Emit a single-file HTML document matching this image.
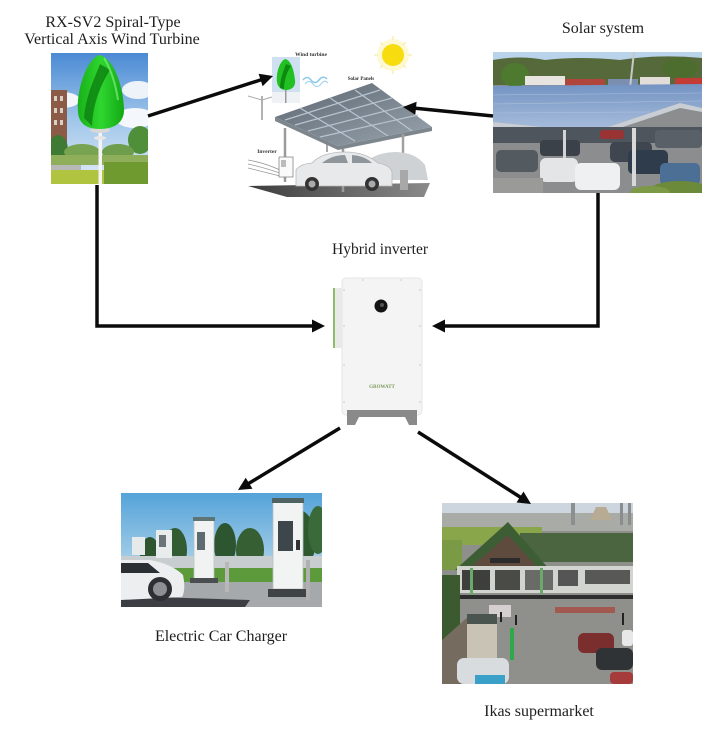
<!DOCTYPE html>
<html><head><meta charset="utf-8"><style>
html,body{margin:0;padding:0;background:#fff;}
svg{display:block;}
text{font-family:"Liberation Serif",serif;}
</style></head><body>
<svg width="716" height="730" viewBox="0 0 716 730" xmlns="http://www.w3.org/2000/svg">
<defs>
<linearGradient id="wsky" x1="0" y1="0" x2="0" y2="1"><stop offset="0" stop-color="#4b8ad4"/><stop offset="0.5" stop-color="#9ec5ea"/><stop offset="1" stop-color="#e2ecf6"/></linearGradient>
<linearGradient id="green" x1="0" y1="0" x2="1" y2="0"><stop offset="0" stop-color="#18b01a"/><stop offset="0.5" stop-color="#2fd62f"/><stop offset="1" stop-color="#12a814"/></linearGradient>
<linearGradient id="panel" x1="0" y1="0" x2="0" y2="1"><stop offset="0" stop-color="#7393c2"/><stop offset="1" stop-color="#aabfdd"/></linearGradient>
<linearGradient id="csky" x1="0" y1="0" x2="0" y2="1"><stop offset="0" stop-color="#54a3d9"/><stop offset="1" stop-color="#dbeaf2"/></linearGradient>
<linearGradient id="plat" x1="0" y1="0" x2="1" y2="0"><stop offset="0" stop-color="#3d3d3d"/><stop offset="1" stop-color="#8a8a8a"/></linearGradient>
<linearGradient id="roof" x1="0" y1="0" x2="1" y2="1"><stop offset="0" stop-color="#5c6670"/><stop offset="1" stop-color="#9aa4ae"/></linearGradient>
<clipPath id="cw"><rect x="51" y="53" width="97" height="131"/></clipPath>
<clipPath id="cs"><rect x="493" y="52" width="209" height="141"/></clipPath>
<clipPath id="cc"><rect x="121" y="493" width="201" height="114"/></clipPath>
<clipPath id="cm"><rect x="442" y="503" width="191" height="181"/></clipPath>
<clipPath id="ct"><rect x="272" y="57" width="28" height="46"/></clipPath>
</defs>

<!-- Labels -->
<g fill="#1e1e1e" font-size="16" text-anchor="middle">
<text x="113" y="27">RX-SV2 Spiral-Type</text>
<text x="112" y="44">Vertical Axis Wind Turbine</text>
<text x="603" y="33">Solar system</text>
<text x="380" y="254" font-size="15.5">Hybrid inverter</text>
<text x="221" y="641">Electric Car Charger</text>
<text x="539" y="716">Ikas supermarket</text>
</g>

<!-- Wind turbine photo -->
<g clip-path="url(#cw)">
<rect x="51" y="53" width="97" height="131" fill="url(#wsky)"/>
<ellipse cx="62" cy="100" rx="18" ry="8" fill="#f2f6fb"/>
<ellipse cx="138" cy="90" rx="16" ry="9" fill="#eef3fa"/>
<ellipse cx="135" cy="118" rx="20" ry="10" fill="#f4f7fb"/>
<rect x="51" y="90" width="16" height="55" fill="#8c5b47"/>
<rect x="54" y="96" width="3" height="5" fill="#d9d0c8"/><rect x="60" y="96" width="3" height="5" fill="#d9d0c8"/>
<rect x="54" y="108" width="3" height="5" fill="#d9d0c8"/><rect x="60" y="108" width="3" height="5" fill="#d9d0c8"/>
<rect x="54" y="120" width="3" height="5" fill="#d9d0c8"/><rect x="60" y="120" width="3" height="5" fill="#d9d0c8"/>
<ellipse cx="58" cy="150" rx="10" ry="15" fill="#3e7a33"/>
<ellipse cx="140" cy="140" rx="12" ry="14" fill="#4f8f3a"/>
<ellipse cx="118" cy="152" rx="16" ry="8" fill="#6e9e4c"/>
<ellipse cx="82" cy="152" rx="18" ry="8" fill="#78a452"/>
<rect x="51" y="155" width="97" height="10" fill="#8fae5a"/>
<rect x="51" y="165" width="30" height="7" fill="#b7b9b6"/>
<rect x="51" y="170" width="97" height="14" fill="#b0c43f"/>
<rect x="104" y="162" width="44" height="22" fill="#6f9a2f"/>
<rect x="98.5" y="132" width="3.5" height="52" fill="#f4f4f4"/>
<ellipse cx="100" cy="130" rx="10" ry="3" fill="#d8d8d8"/>
<ellipse cx="100" cy="138" rx="6" ry="2" fill="#e6e6e6"/>
<path d="M99,55 C86,60 76,92 78,112 C79,126 90,129 100,129 C112,129 125,124 124,108 C123,86 114,58 99,55 Z" fill="url(#green)"/>
<path d="M100,64 C94,80 86,95 84,118 L92,126 C93,104 100,86 110,70 Z" fill="#0d7f10" opacity="0.8"/>
<path d="M104,58 C110,68 115,80 118,100" stroke="#7ff07f" stroke-width="2" fill="none" opacity="0.7"/>
</g>

<!-- Solar photo -->
<g clip-path="url(#cs)">
<rect x="493" y="52" width="209" height="141" fill="#8b8d8e"/>
<rect x="493" y="52" width="209" height="8" fill="#b9d3ea"/>
<path d="M493,60 Q520,55 545,60 Q580,56 620,60 Q660,54 702,58 L702,85 L493,85 Z" fill="#56693a"/>
<ellipse cx="515" cy="75" rx="14" ry="12" fill="#4d7a2e"/>
<ellipse cx="680" cy="68" rx="18" ry="10" fill="#4c6d2d"/>
<rect x="525" y="76" width="40" height="9" fill="#e8e4e0"/>
<rect x="565" y="79" width="40" height="8" fill="#b0453b"/>
<rect x="608" y="79" width="30" height="7" fill="#7a8fb0"/>
<rect x="640" y="77" width="30" height="8" fill="#e2ddd8"/>
<rect x="675" y="78" width="27" height="7" fill="#c23b35"/>
<path d="M634,52 L630,88" stroke="#c8c8c8" stroke-width="2"/>
<polygon points="493,86 702,84 702,108 680,103 593,132 493,122" fill="url(#panel)"/>
<g stroke="#b8c9e2" stroke-width="0.6" opacity="0.7">
<line x1="493" y1="95" x2="702" y2="93"/><line x1="493" y1="104" x2="702" y2="101"/><line x1="493" y1="113" x2="650" y2="112"/>
</g>
<polygon points="493,122 593,132 680,103 702,108 702,112 680,108 593,137 493,127" fill="#c9ced4"/>
<rect x="493" y="127" width="209" height="16" fill="#4e555d"/>
<rect x="496" y="150" width="42" height="22" rx="5" fill="#535a60"/>
<rect x="540" y="140" width="40" height="16" rx="4" fill="#3b4148"/>
<rect x="600" y="130" width="24" height="9" rx="3" fill="#9a3434"/>
<rect x="610" y="142" width="42" height="20" rx="5" fill="#3f4650"/>
<rect x="655" y="130" width="47" height="18" rx="4" fill="#5a6068"/>
<rect x="540" y="158" width="38" height="24" rx="6" fill="#e3e5e7"/>
<rect x="575" y="163" width="45" height="27" rx="6" fill="#eef0f2"/>
<rect x="628" y="150" width="40" height="24" rx="5" fill="#2f3c4c"/>
<rect x="660" y="163" width="40" height="22" rx="5" fill="#4c6f96"/>
<rect x="563" y="130" width="3" height="28" fill="#d4d4d4"/>
<rect x="632" y="128" width="4" height="58" fill="#d8d8d8"/>
<rect x="493" y="178" width="50" height="15" fill="#9a9a98"/>
<ellipse cx="680" cy="190" rx="30" ry="9" fill="#6b8a3a"/>
<ellipse cx="650" cy="192" rx="20" ry="6" fill="#7c9a45"/>
</g>

<!-- Carport illustration -->
<g>
<circle cx="393" cy="55" r="16" fill="#fdf6c0" opacity="0.7"/>
<circle cx="393" cy="55" r="11" fill="#f7dc10"/>
<g stroke="#f6ea9a" stroke-width="1">
<line x1="393" y1="36" x2="393" y2="40"/><line x1="393" y1="70" x2="393" y2="74"/>
<line x1="374" y1="55" x2="378" y2="55"/><line x1="408" y1="55" x2="412" y2="55"/>
<line x1="380" y1="42" x2="383" y2="45"/><line x1="406" y1="42" x2="403" y2="45"/>
<line x1="380" y1="68" x2="383" y2="65"/><line x1="406" y1="68" x2="403" y2="65"/>
</g>
<g clip-path="url(#ct)">
<rect x="272" y="57" width="28" height="46" fill="#cfe0f0"/>
<rect x="272" y="92" width="28" height="11" fill="#eef2f5"/>
<path d="M285,59 C279,62 276,74 277,82 C278,88 282,90 286,90 C291,90 296,87 295,80 C294,70 291,60 285,59 Z" fill="#22c022"/>
<path d="M286,64 C283,72 280,80 280,88 L284,89 C284,80 287,72 291,66 Z" fill="#0d8a10"/>
<rect x="285" y="90" width="1.5" height="13" fill="#999"/>
</g>
<text x="311" y="56" font-family="Liberation Sans,sans-serif" font-size="5.5" font-weight="bold" fill="#333" text-anchor="middle">Wind turbine</text>
<path d="M303,80 q4,-5 8,0 t8,0 t8,-1" stroke="#8cc8e8" stroke-width="1.5" fill="none"/>
<path d="M305,84 q4,-5 8,0 t8,0 t7,-1" stroke="#a8d6ee" stroke-width="1.2" fill="none"/>
<text x="361" y="80" font-family="Liberation Sans,sans-serif" font-size="5" font-weight="bold" fill="#333" text-anchor="middle">Solar Panels</text>
<line x1="262" y1="96" x2="262" y2="120" stroke="#999" stroke-width="1.5"/>
<path d="M248,96 L262,100 L272,97" stroke="#aaa" stroke-width="1" fill="none"/>
<polygon points="248,186 430,183 424,197 287,197" fill="url(#plat)"/>
<line x1="285" y1="128" x2="285" y2="182" stroke="#9a9a9a" stroke-width="2.5"/>
<line x1="327" y1="128" x2="327" y2="152" stroke="#a8a8a8" stroke-width="2"/>
<polygon points="275,117 372,83 432,127 338,146" fill="url(#roof)"/>
<g stroke="#b8c4cf" stroke-width="1.2">
<line x1="285" y1="120" x2="380" y2="90"/><line x1="295" y1="125" x2="392" y2="98"/>
<line x1="308" y1="131" x2="405" y2="106"/><line x1="320" y1="137" x2="418" y2="115"/>
<line x1="300" y1="108" x2="355" y2="141"/><line x1="330" y1="98" x2="388" y2="136"/><line x1="355" y1="90" x2="412" y2="131"/>
</g>
<polygon points="275,117 338,146 432,127 432,131 338,150 275,121" fill="#7d858d"/>
<line x1="343" y1="149" x2="343" y2="192" stroke="#9a9a9a" stroke-width="2.5"/>
<line x1="403" y1="134" x2="403" y2="190" stroke="#a0a0a0" stroke-width="2.5"/>
<text x="267" y="153" font-family="Liberation Sans,sans-serif" font-size="5.5" font-weight="bold" fill="#333" text-anchor="middle">Inverter</text>
<path d="M248,160 Q265,163 280,170 M248,164 Q262,167 280,173 M248,168 Q260,171 280,176" stroke="#999" stroke-width="0.8" fill="none"/>
<rect x="279" y="157" width="14" height="20" fill="#fafafa" stroke="#888" stroke-width="0.8"/>
<rect x="281" y="160" width="5" height="7" fill="#bbb"/>
<path d="M364,180 L364,165 Q372,153 395,152 Q415,152 425,165 L428,180 Z" fill="#cfd2d4"/>
<path d="M296,186 L296,170 Q300,164 312,163 Q322,152 345,152 Q365,152 378,163 Q390,165 392,172 L392,186 Z" fill="#e8e9ea" stroke="#b8b8b8" stroke-width="0.8"/>
<path d="M322,163 Q332,155 345,155 L348,163 Z M352,155 Q365,156 372,163 L352,163 Z" fill="#8e969c"/>
<circle cx="312" cy="184" r="7" fill="#333"/><circle cx="312" cy="184" r="3.5" fill="#aaa"/>
<circle cx="372" cy="184" r="7" fill="#333"/><circle cx="372" cy="184" r="3.5" fill="#aaa"/>
<rect x="400" y="170" width="8" height="20" fill="#a8a8a8"/>
</g>

<!-- Inverter -->
<g>
<rect x="333" y="288" width="10" height="60" fill="#e9e9e9"/>
<rect x="333" y="288" width="2" height="60" fill="#8dbd6a"/>
<rect x="342" y="278" width="80" height="137" rx="4" fill="#f4f4f4" stroke="#e6e6e6" stroke-width="1"/>
<circle cx="381" cy="306" r="6.5" fill="#141414"/>
<circle cx="382" cy="305" r="2" fill="#555"/>
<g fill="#c8c8c8">
<circle cx="363" cy="280" r="0.8"/><circle cx="401" cy="280" r="0.8"/>
<circle cx="344" cy="290" r="0.8"/><circle cx="420" cy="290" r="0.8"/>
<circle cx="344" cy="326" r="0.8"/><circle cx="420" cy="326" r="0.8"/>
<circle cx="344" cy="365" r="0.8"/><circle cx="420" cy="365" r="0.8"/>
<circle cx="344" cy="402" r="0.8"/><circle cx="420" cy="402" r="0.8"/>
</g>
<text x="382" y="388" font-family="Liberation Sans,sans-serif" font-size="5" font-weight="bold" fill="#7a9a5a" text-anchor="middle">GROWATT</text>
<path d="M347,410 L417,410 L417,425 L409,425 L405,417 L359,417 L355,425 L347,425 Z" fill="#8a8a8a"/>
</g>

<!-- Charger photo -->
<g clip-path="url(#cc)">
<rect x="121" y="493" width="201" height="114" fill="url(#csky)"/>
<ellipse cx="150" cy="555" rx="10" ry="18" fill="#2e5530"/>
<ellipse cx="175" cy="550" rx="12" ry="22" fill="#335c33"/>
<ellipse cx="225" cy="545" rx="11" ry="22" fill="#2d5530"/>
<ellipse cx="250" cy="550" rx="14" ry="22" fill="#365f34"/>
<ellipse cx="298" cy="540" rx="18" ry="30" fill="#2f5a30"/>
<ellipse cx="318" cy="530" rx="10" ry="24" fill="#3b6a3a"/>
<rect x="121" y="556" width="201" height="14" fill="#c8cecf"/>
<rect x="121" y="568" width="201" height="16" fill="#5c9a3c"/>
<rect x="121" y="582" width="201" height="25" fill="#a5a9ac"/>
<polygon points="121,596 250,600 245,607 121,607" fill="#3b3f43"/>
<rect x="132" y="537" width="13" height="18" fill="#e6eaea"/>
<rect x="156" y="530" width="16" height="28" fill="#e8ecec"/>
<rect x="159" y="535" width="7" height="12" fill="#6a7478"/>
<rect x="194" y="519" width="20" height="60" fill="#f1f3f3" stroke="#b9c4c4" stroke-width="0.8"/>
<rect x="193" y="517" width="22" height="4" fill="#5f7474"/>
<rect x="197" y="532" width="8" height="18" fill="#5d6a70"/>
<rect x="190" y="578" width="28" height="5" fill="#4a4e50"/>
<rect x="273" y="501" width="30" height="88" fill="#f2f4f4" stroke="#b5c1c1" stroke-width="0.8"/>
<rect x="272" y="498" width="32" height="5" fill="#4f6363"/>
<rect x="278" y="521" width="15" height="30" fill="#3d464b"/>
<rect x="296" y="540" width="4" height="10" fill="#333"/>
<rect x="268" y="589" width="42" height="8" fill="#3f4345"/>
<rect x="225" y="562" width="4" height="30" fill="#b8b8b8"/>
<rect x="306" y="560" width="4" height="40" fill="#b0b0b0"/>
<path d="M121,560 L150,560 Q172,564 183,575 Q186,590 182,597 L121,600 Z" fill="#eceeef"/>
<path d="M121,563 L148,563 L160,573 L121,573 Z" fill="#2b3035"/>
<circle cx="160" cy="589" r="12" fill="#2c2f33"/><circle cx="160" cy="589" r="7" fill="#8c9094"/>
</g>

<!-- Supermarket photo -->
<g clip-path="url(#cm)">
<rect x="442" y="503" width="191" height="181" fill="#8e8f8b"/>
<rect x="442" y="503" width="191" height="12" fill="#cdd6de"/>
<rect x="442" y="513" width="191" height="18" fill="#a9aba6"/>
<rect x="571" y="503" width="4" height="22" fill="#8c8f90"/>
<polygon points="590,520 596,507 606,507 612,520" fill="#b8ab94"/>
<rect x="620" y="503" width="3" height="22" fill="#8a8d8e"/>
<rect x="628" y="503" width="3" height="22" fill="#8a8d8e"/>
<rect x="442" y="527" width="100" height="18" fill="#8aa64a"/>
<rect x="442" y="540" width="20" height="30" fill="#7b9a45"/>
<rect x="520" y="533" width="113" height="29" fill="#4a6540"/>
<polygon points="455,570 508,522 550,570" fill="#3d5e35"/>
<polygon points="470,568 508,535 538,568" fill="#5e4b3e"/>
<rect x="490" y="558" width="30" height="5" fill="#2b2b2b"/>
<rect x="457" y="566" width="176" height="27" fill="#d2d4cf"/>
<rect x="462" y="570" width="28" height="20" fill="#3e3f3c"/>
<rect x="495" y="570" width="25" height="20" fill="#4a4a46"/>
<rect x="525" y="570" width="28" height="20" fill="#6a6a66"/>
<rect x="558" y="570" width="20" height="16" fill="#555"/>
<rect x="585" y="570" width="45" height="14" fill="#585956"/>
<rect x="470" y="568" width="3" height="28" fill="#6aa96a"/>
<rect x="540" y="568" width="3" height="26" fill="#6aa96a"/>
<rect x="442" y="595" width="191" height="4" fill="#2d2d2d"/>
<rect x="442" y="599" width="191" height="85" fill="#8f908b"/>
<rect x="442" y="575" width="18" height="70" fill="#3c5a30"/>
<polygon points="442,640 470,615 475,684 442,684" fill="#756b5e"/>
<rect x="489" y="605" width="22" height="12" fill="#d6cfd0"/>
<rect x="467" y="614" width="30" height="10" fill="#4b5550"/>
<rect x="467" y="624" width="30" height="34" fill="#c9c3b6"/>
<rect x="555" y="607" width="60" height="6" fill="#a25a50"/>
<rect x="510" y="628" width="4" height="32" fill="#2ea84a"/>
<rect x="500" y="612" width="2" height="10" fill="#222"/><rect x="515" y="615" width="2" height="10" fill="#222"/>
<rect x="622" y="613" width="2" height="12" fill="#222"/>
<rect x="578" y="633" width="36" height="20" rx="6" fill="#7a2e2e"/>
<rect x="596" y="648" width="37" height="22" rx="6" fill="#2f3336"/>
<rect x="622" y="630" width="11" height="16" rx="3" fill="#e8e8e8"/>
<rect x="610" y="672" width="23" height="12" rx="4" fill="#a63b3b"/>
<rect x="457" y="658" width="52" height="26" rx="7" fill="#d9dcde"/>
<rect x="475" y="675" width="30" height="9" fill="#3aa0c8"/>
</g>

<!-- Arrows -->
<g stroke="#0b0b0b" stroke-width="3.5" fill="none" stroke-linejoin="miter">
<line x1="148" y1="116" x2="263.5" y2="79"/>
<line x1="493" y1="116" x2="413" y2="108"/>
<polyline points="97,185 97,326 316,326"/>
<polyline points="598,193 598,326 441,326"/>
<line x1="340" y1="428" x2="246.5" y2="484.8"/>
<line x1="418" y1="432" x2="522.6" y2="498.6"/>
</g>
<g fill="#0b0b0b">
<polygon points="273,76 262.6,86.2 258.6,73.8"/>
<polygon points="403,107 416.6,101.8 415.3,114.8"/>
<polygon points="325,326 312,319.5 312,332.5"/>
<polygon points="432,326 445,319.5 445,332.5"/>
<polygon points="238,490 252.5,488.8 245.7,477.7"/>
<polygon points="531,504 516.5,502.5 523.5,491.5"/>
</g>
</svg>
</body></html>
